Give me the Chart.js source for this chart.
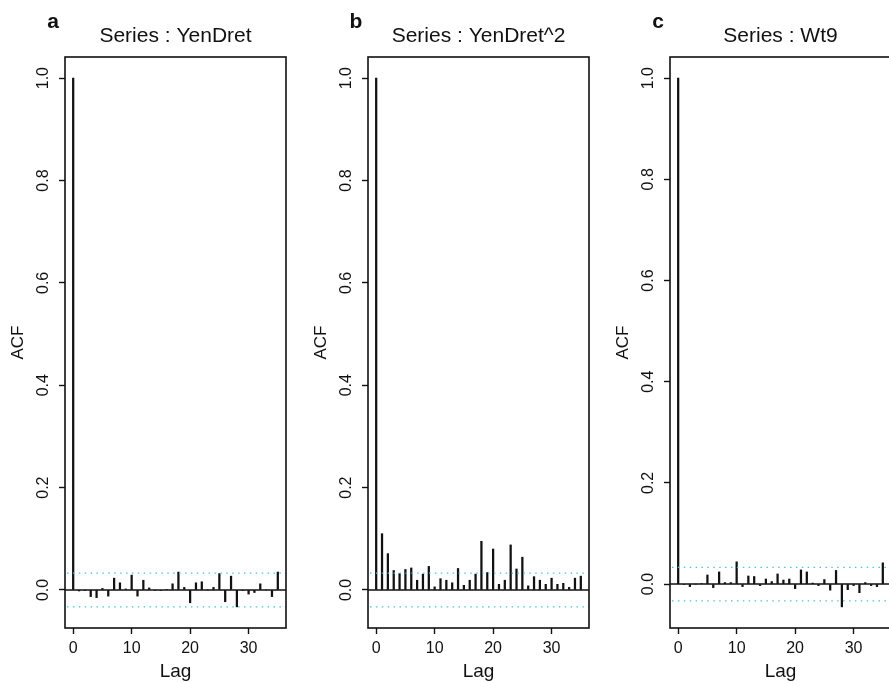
<!DOCTYPE html>
<html>
<head>
<meta charset="utf-8">
<script src="https://cdn.jsdelivr.net/npm/chart.js@4.4.1/dist/chart.umd.min.js"></script>
<style>
  html, body { margin: 0; padding: 0; background: #fff; overflow: hidden; }
  body { width: 889px; height: 683px; position: relative; }
  canvas { position: absolute; top: 0; }
</style>
</head>
<body>
<canvas id="acf-a" width="300" height="683" style="left:0px"></canvas>
<canvas id="acf-b" width="300" height="683" style="left:303px"></canvas>
<canvas id="acf-c" width="300" height="683" style="left:605px"></canvas>
<script>
// lags 0..35
const lags = [0, 1, 2, 3, 4, 5, 6, 7, 8, 9, 10, 11, 12, 13, 14, 15, 16, 17,
              18, 19, 20, 21, 22, 23, 24, 25, 26, 27, 28, 29, 30, 31, 32, 33, 34, 35];

// ACF of the returns
const yenDretAcf = [1.0, -0.002, -0.001, -0.013, -0.015, 0.003, -0.012, 0.023, 0.014, 0.002,
                    0.029, -0.012, 0.019, 0.004, -0.001, -0.001, 0.001, 0.012, 0.035, 0.005,
                    -0.025, 0.014, 0.016, 0.000, 0.005, 0.032, -0.023, 0.027, -0.033, -0.001,
                    -0.008, -0.005, 0.012, 0.000, -0.013, 0.035];

// ACF of the squared returns
const yenDretSqAcf = [1.0, 0.110, 0.071, 0.038, 0.032, 0.040, 0.043, 0.019, 0.031, 0.046,
                      0.006, 0.022, 0.019, 0.014, 0.042, 0.009, 0.019, 0.031, 0.095, 0.034,
                      0.080, 0.011, 0.019, 0.088, 0.041, 0.064, 0.008, 0.026, 0.019, 0.011,
                      0.023, 0.011, 0.013, 0.005, 0.023, 0.027];

// ACF of Wt9
const wt9Acf = [1.0, -0.001, -0.005, 0.000, 0.001, 0.018, -0.007, 0.024, 0.003, 0.003,
                0.044, -0.005, 0.016, 0.015, -0.003, 0.010, 0.005, 0.020, 0.008, 0.010,
                -0.009, 0.028, 0.024, 0.002, -0.003, 0.009, -0.012, 0.027, -0.045, -0.011,
                -0.003, -0.017, 0.003, -0.003, -0.005, 0.042];

const lagTicks = [0, 10, 20, 30];
const acfTicks = [0.0, 0.2, 0.4, 0.6, 0.8, 1.0];
const confLimit = 0.033;   // 1.96/sqrt(n)

Chart.defaults.font.family = "'Liberation Sans', Arial, Helvetica, sans-serif";
Chart.defaults.color = '#000';

// S-PLUS style frame, zero line, confidence band, rotated y labels and titles
const acfLook = {
  id: 'acfLook',
  afterDatasetsDraw(chart) {
    const {ctx, chartArea: a, scales: {y}} = chart;
    ctx.save();
    ctx.beginPath();
    ctx.rect(a.left, a.top, a.right - a.left, a.bottom - a.top);
    ctx.clip();

    const y0 = y.getPixelForValue(0);
    ctx.strokeStyle = '#111';
    ctx.lineWidth = 1.5;
    ctx.beginPath();
    ctx.moveTo(a.left, y0);
    ctx.lineTo(a.right, y0);
    ctx.stroke();

    ctx.strokeStyle = 'rgb(70, 200, 205)';
    ctx.lineWidth = 1.3;
    ctx.setLineDash([1.5, 4.4]);
    [confLimit, -confLimit].forEach(v => {
      const py = y.getPixelForValue(v);
      ctx.beginPath();
      ctx.moveTo(a.left + 2, py);
      ctx.lineTo(a.right, py);
      ctx.stroke();
    });
    ctx.restore();
  },
  afterDraw(chart, args, opts) {
    const {ctx, chartArea: a, scales: {y}} = chart;
    ctx.save();

    // box
    ctx.strokeStyle = '#111';
    ctx.lineWidth = 1.6;
    ctx.strokeRect(a.left, a.top, a.right - a.left, a.bottom - a.top);

    // y tick labels, read bottom to top
    ctx.fillStyle = '#111';
    ctx.font = "16px 'Liberation Sans', Arial, sans-serif";
    ctx.textAlign = 'center';
    ctx.textBaseline = 'middle';
    y.ticks.forEach(t => {
      ctx.save();
      ctx.translate(a.left - 21, y.getPixelForValue(t.value));
      ctx.rotate(-Math.PI / 2);
      ctx.fillText(t.value.toFixed(1), 0, 0);
      ctx.restore();
    });

    // panel letter and series title
    ctx.textBaseline = 'alphabetic';
    ctx.font = "bold 21px 'Liberation Sans', Arial, sans-serif";
    ctx.fillText(opts.letter, a.left - 12, 28);
    ctx.font = "21px 'Liberation Sans', Arial, sans-serif";
    ctx.fillText(opts.title, (a.left + a.right) / 2, 42);
    ctx.restore();
  }
};

function acfChart(id, letter, title, values) {
  const points = lags.map((lag, i) => ({x: lag, y: values[i]}));
  const lo = Math.min(-confLimit, ...values);
  const hi = Math.max(confLimit, ...values);
  const pad = (hi - lo) * 0.04;

  return new Chart(document.getElementById(id), {
    type: 'bar',
    data: {
      datasets: [{
        data: points,
        backgroundColor: '#111',
        borderWidth: 0,
        barThickness: 1.6
      }]
    },
    options: {
      responsive: false,
      animation: false,
      devicePixelRatio: 1,
      layout: {padding: {top: 57, right: 14, left: 0, bottom: 0}},
      plugins: {
        legend: {display: false},
        tooltip: {enabled: false},
        acfLook: {letter: letter, title: title}
      },
      scales: {
        x: {
          type: 'linear',
          min: -1.4,
          max: 36.4,
          offset: false,
          afterBuildTicks: s => { s.ticks = lagTicks.map(v => ({value: v})); },
          afterFit: s => { s.height = 55; },
          grid: {offset: false, drawOnChartArea: false, drawTicks: true,
                 tickLength: 6, tickColor: '#111', tickWidth: 1.4},
          border: {display: false},
          ticks: {font: {size: 16}, padding: 5, color: '#111', maxRotation: 0},
          title: {display: true, text: 'Lag', font: {size: 19}, color: '#111',
                  padding: {top: 0, bottom: 0}}
        },
        y: {
          type: 'linear',
          min: lo - pad,
          max: hi + pad,
          afterBuildTicks: s => { s.ticks = acfTicks.map(v => ({value: v})); },
          afterFit: s => { s.width = 65; },
          grid: {drawOnChartArea: false, drawTicks: true,
                 tickLength: 6, tickColor: '#111', tickWidth: 1.4},
          border: {display: false},
          ticks: {display: false},
          title: {display: true, text: 'ACF', font: {size: 17}, color: '#111',
                  padding: {top: 8, bottom: 0}}
        }
      }
    },
    plugins: [acfLook]
  });
}

acfChart('acf-a', 'a', 'Series : YenDret', yenDretAcf);
acfChart('acf-b', 'b', 'Series : YenDret^2', yenDretSqAcf);
acfChart('acf-c', 'c', 'Series : Wt9', wt9Acf);
</script>
</body>
</html>
